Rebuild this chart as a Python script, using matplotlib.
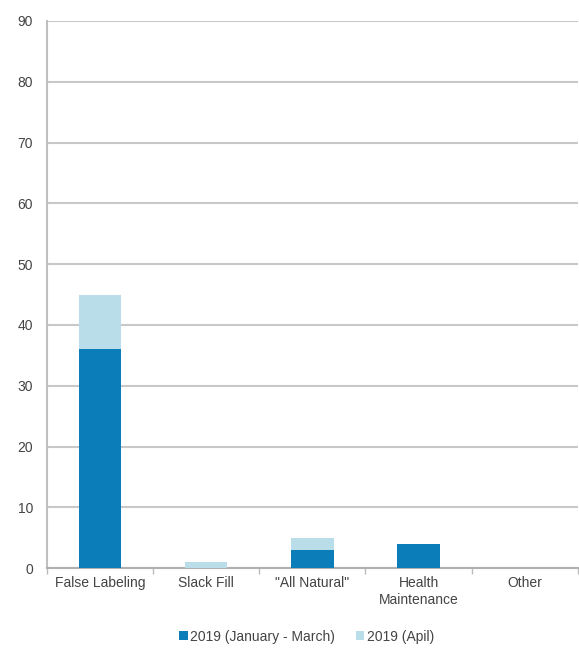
import matplotlib
matplotlib.use("Agg")
import matplotlib.pyplot as plt
import numpy as np

categories = ["False Labeling", "Slack Fill", "\"All Natural\"", "Health\nMaintenance", "Other"]
jan_mar = [36, 0, 3, 4, 0]
april = [9, 1, 2, 0, 0]
series_labels = ["2019 (January - March)", "2019 (Apil)"]
yticks = list(range(0, 100, 10))

plt.rcParams['font.family'] = ['Liberation Sans', 'DejaVu Sans']

fig = plt.figure(figsize=(5.79, 6.56), dpi=100)
ax = fig.add_axes([0.081, 0.134, 0.917, 0.834])

dark = "#0b7db8"
light = "#b9dde9"
x = np.arange(len(categories))
w = 0.4
ax.bar(x, jan_mar, width=w, color=dark, label=series_labels[0], zorder=3)
ax.bar(x, april, width=w, bottom=jan_mar, color=light, label=series_labels[1], zorder=3)

ax.set_xlim(-0.5, len(categories) - 0.5)
ax.set_ylim(0, 90)
ax.set_yticks(yticks)
ax.yaxis.grid(True, color="#c8c8c8", linewidth=1.5, zorder=0)
ax.set_axisbelow(True)

ax.set_xticks(x)
ax.set_xticklabels(categories, fontsize=10, color="#444444")
ax.tick_params(axis='x', length=0, pad=6)
ax.set_xticks(np.arange(-0.5, len(categories) + 0.5, 1), minor=True)
ax.tick_params(axis='x', which='minor', length=4, color="#bbbbbb", width=1)
ax.tick_params(axis='y', length=0, labelsize=10, labelcolor="#444444", pad=10)

for s in ["top", "right"]:
    ax.spines[s].set_visible(False)
ax.spines["left"].set_color("#c0c0c0")
ax.spines["left"].set_linewidth(1.5)
ax.spines["bottom"].set_color("#b0b0b0")
ax.spines["bottom"].set_linewidth(1.5)

leg = fig.legend(loc="lower center", bbox_to_anchor=(0.53, 0.0), ncol=2, frameon=False,
                 fontsize=10, handlelength=0.6, handleheight=0.6, handletextpad=0.2,
                 columnspacing=1.5, labelcolor="#444444")

fig.savefig("out.png", dpi=100)
